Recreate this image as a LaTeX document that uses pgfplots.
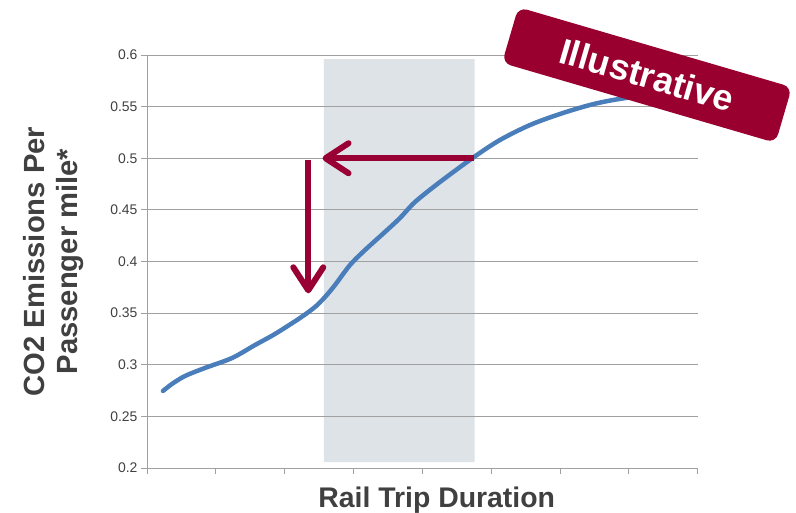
\documentclass[border=0pt]{standalone}
\usepackage{fontspec}
\setmainfont{Liberation Sans}
\usepackage{pgfplots}
\pgfplotsset{compat=1.18}
\usetikzlibrary{arrows.meta}

\definecolor{curveblue}{HTML}{4A7EBB}
\definecolor{arrowred}{HTML}{990033}
\definecolor{badgered}{HTML}{990030}
\definecolor{bandgray}{HTML}{DEE3E8}
\definecolor{gridgray}{HTML}{A0A0A0}
\definecolor{textgray}{HTML}{404040}

\begin{document}
\begin{tikzpicture}
\begin{axis}[
  at={(0,0)}, anchor=south west,
  scale only axis, width=550.7bp, height=413bp,
  set layers, clip=false,
  xmin=0, xmax=8, ymin=0.2, ymax=0.6,
  xtick={0,1,2,3,4,5,6,7,8}, xticklabels={},
  ytick={0.2,0.25,0.3,0.35,0.4,0.45,0.5,0.55,0.6},
  yticklabels={0.2,0.25,0.3,0.35,0.4,0.45,0.5,0.55,0.6},
  axis x line*=bottom, axis y line*=left,
  axis line style={gridgray, line width=0.9bp, -},
  tick align=outside, major tick length=6bp,
  tick style={gridgray, line width=0.9bp},
  ymajorgrids, grid style={gridgray, line width=0.9bp},
  yticklabel style={font=\fontsize{14}{15}\selectfont, text=textgray},
  xlabel={Rail Trip Duration},
  xlabel style={font=\bfseries\fontsize{28.5}{30}\selectfont, text=textgray,
    at={(axis description cs:0.526,0)}, anchor=base, yshift=-39bp},
  ylabel={CO2 Emissions Per\\Passenger mile*},
  ylabel style={font=\bfseries\fontsize{29.3}{33}\selectfont, text=textgray,
    align=center, at={(axis description cs:-0.1695,0.5)}, anchor=center},
]
% shaded duration band
\addplot[fill=bandgray, draw=none, on layer=axis background]
  coordinates {(2.571,0.2058) (4.76,0.2058) (4.76,0.596) (2.571,0.596) (2.571,0.2058)};

% emissions curve
\addplot[curveblue, line width=4.5bp, line cap=round, smooth, tension=0.5]
  coordinates {
  (0.232,0.2746) (0.363,0.2814) (0.552,0.2891) (0.843,0.2969)
  (1.235,0.3065) (1.569,0.3191) (1.859,0.3298) (2.223,0.3453)
  (2.440,0.3559) (2.586,0.3656) (2.731,0.3772) (2.949,0.3966)
  (3.167,0.4111) (3.457,0.4286) (3.675,0.4421) (3.893,0.4576)
  (4.256,0.4770) (4.750,0.5012) (5.128,0.5177) (5.564,0.5322)
  (6.000,0.5429) (6.435,0.5516) (6.770,0.5564) (7.160,0.5603)
  (7.380,0.5620)
  };

% reading arrows
\draw[arrowred, line width=6bp,
  -{Straight Barb[length=23bp, width=30bp, line width=6bp, round]}]
  (axis cs:4.75,0.5) -- (axis cs:2.55,0.5);
\draw[arrowred, line width=6bp,
  -{Straight Barb[length=23bp, width=30bp, line width=6bp, round]}]
  (axis cs:2.343,0.4983) -- (axis cs:2.343,0.3692);

% badge
\node[rotate=-16.3, fill=badgered, rounded corners=9bp,
  minimum width=285bp, minimum height=58bp, inner sep=0pt,
  text=white, font=\bfseries\fontsize{36}{36}\selectfont]
  at (axis cs:7.263,0.5806) {Illustrative};
\end{axis}
\pgfresetboundingbox
\path[use as bounding box] (-147bp,-45bp) rectangle (649bp,468bp);
\end{tikzpicture}
\end{document}
